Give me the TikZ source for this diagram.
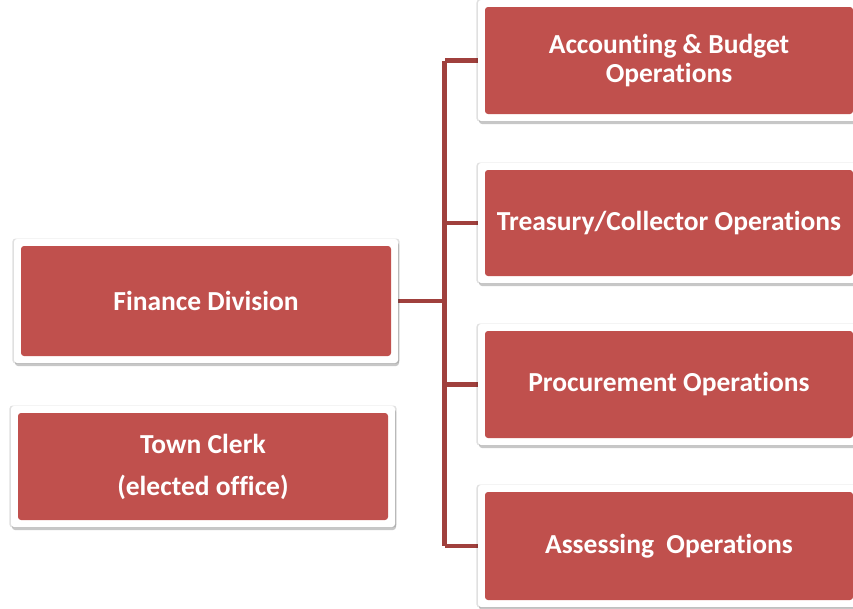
\documentclass[tikz,border=0pt]{standalone}
\usepackage{fontspec}
\setmainfont{Carlito}[Ligatures={NoCommon}]
\usetikzlibrary{shadows,backgrounds}
\definecolor{boxred}{HTML}{C0504D}
\definecolor{linered}{HTML}{A0403D}
\tikzset{
  orgbox/.style={rectangle, rounded corners=3pt, fill=white, draw=none,
    text=white, font=\fontsize{27.5}{29}\selectfont\bfseries, align=center,
    inner sep=0pt, minimum width=384pt,
    drop shadow={shadow xshift=0pt, shadow yshift=0pt, shadow scale=1.008, opacity=0.12, fill=black},
    drop shadow={shadow xshift=1pt, shadow yshift=-3pt, opacity=0.22, fill=black},
    path picture={\fill[boxred] ([shift={(7pt,-7pt)}]path picture bounding box.north west)
      rectangle ([shift={(-7pt,7pt)}]path picture bounding box.south east);}},
  conn/.style={draw=linered, line width=4.5pt}
}
\begin{document}
\begin{tikzpicture}[x=1pt, y=-1pt]
\useasboundingbox (0,0) rectangle (853,608);
\node[orgbox, minimum height=124pt] (fin) at (206,301) {Finance Division};
\node[orgbox, minimum height=121pt] (clerk) at (203,466.5) {Town Clerk\\[13pt](elected office)};
\node[orgbox, minimum height=121pt, minimum width=382pt] (acc) at (669,60.5) {Accounting \& Budget\\Operations};
\node[orgbox, minimum height=120pt, minimum width=382pt] (tre) at (669,223) {Treasury/Collector Operations};
\node[orgbox, minimum height=121pt, minimum width=382pt] (pro) at (669,384.5) {Procurement Operations};
\node[orgbox, minimum height=122pt, minimum width=382pt] (ass) at (669,546) {Assessing\hspace{0.45em}Operations};
\coordinate (bus) at (444.5,301);
\begin{scope}[on background layer]
\draw[conn] (fin.east) -- (fin.east -| bus);
\draw[conn] (acc.west -| bus) -- (ass.west -| bus);
\draw[conn] (acc.west) -- (acc.west -| bus);
\draw[conn] (tre.west) -- (tre.west -| bus);
\draw[conn] (pro.west) -- (pro.west -| bus);
\draw[conn] (ass.west) -- (ass.west -| bus);
\end{scope}
\end{tikzpicture}
\end{document}
